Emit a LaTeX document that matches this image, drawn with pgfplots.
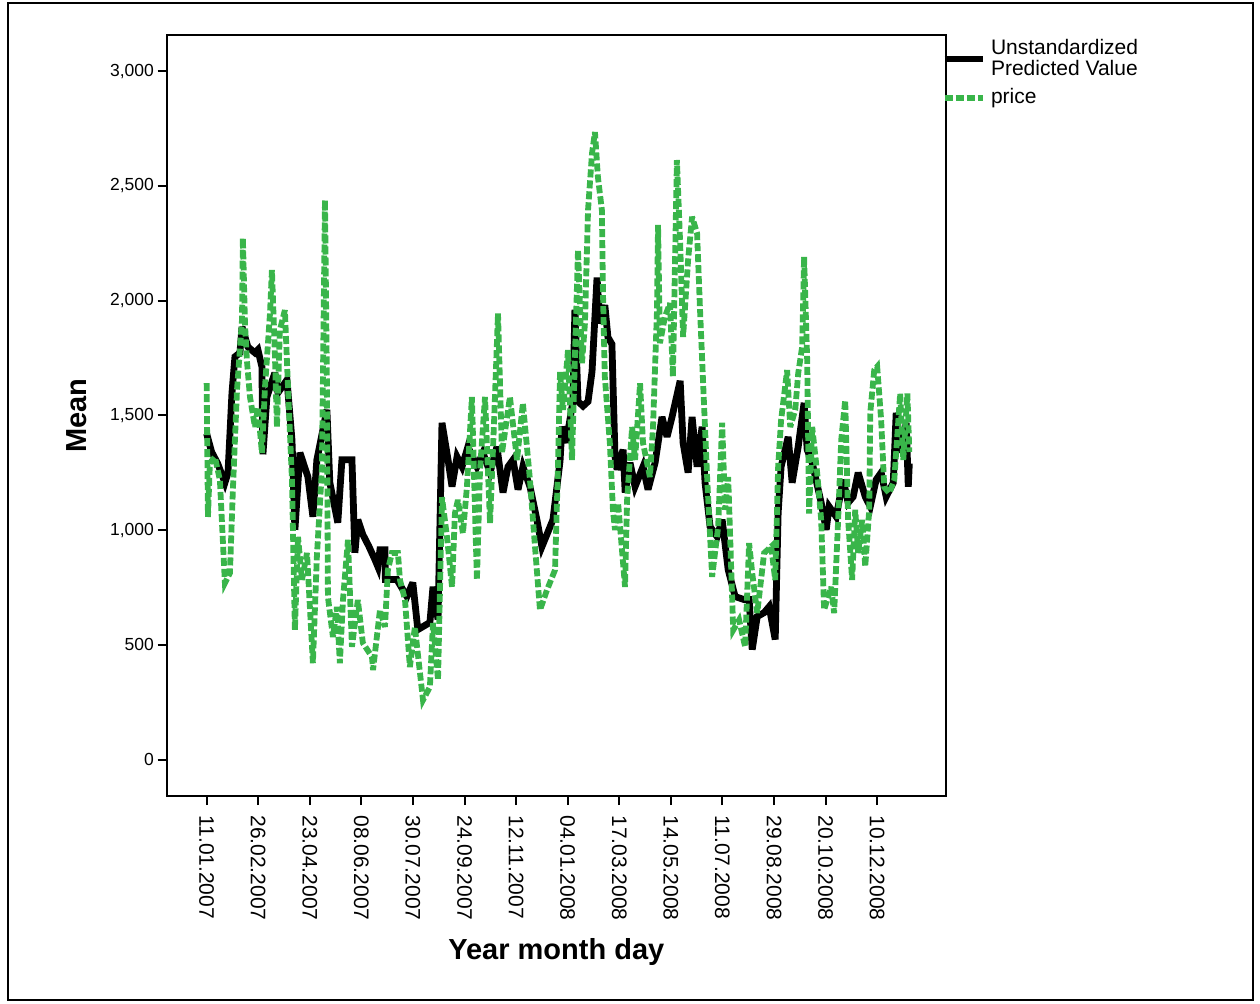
\documentclass[border=0pt]{standalone}
\usepackage{fontspec}
\setmainfont{Liberation Sans}
\usepackage{pgfplots}
\pgfplotsset{compat=1.18}
\definecolor{pricegreen}{RGB}{57,181,74}

\begin{document}
\begin{tikzpicture}[x=1pt,y=1pt]
\useasboundingbox (0,0) rectangle (630,501.5);
% outer frame of the chart
\draw[line width=0.75pt] (4,1.5) rectangle (626.5,500);
\begin{axis}[
  at={(83.35pt,103.5pt)}, anchor=south west,
  scale only axis, width=389.65pt, height=380.5pt,
  xmin=-27.1, xmax=501.7, ymin=-159, ymax=3157,
  axis line style={line width=1pt},
  every tick/.style={line width=1pt, black},
  tick align=outside, major tick length=4.5pt,
  tick pos=left,
  xtick={0,35,...,455},
  xticklabels={11.01.2007,26.02.2007,23.04.2007,08.06.2007,30.07.2007,24.09.2007,12.11.2007,04.01.2008,17.03.2008,14.05.2008,11.07.2008,29.08.2008,20.10.2008,10.12.2008},
  ytick={0,500,...,3000},
  xticklabel style={font=\fontsize{10.5}{12}\selectfont, rotate=-90, anchor=west, inner xsep=5pt},
  yticklabel style={font=\fontsize{8.75}{10}\selectfont, anchor=east, xshift=1.6pt},
  xlabel={Year month day},
  ylabel={Mean},
  label style={font=\fontsize{14.5}{17}\selectfont\bfseries},
  xlabel style={at={(axis description cs:0.5,-0.205)}, anchor=center},
  ylabel style={at={(axis description cs:-0.1151,0.5)}, anchor=center},
  legend style={at={(rel axis cs:1,1)}, anchor=north west, draw=none, fill=none,
    inner sep=0pt, xshift=-2.6pt, yshift=-1pt, row sep=3pt, column sep=0pt,
    font=\fontsize{10.5}{10.5}\selectfont,
    nodes={inner xsep=2.5pt, inner ysep=1pt},
    cells={anchor=west, align=left}},
  legend image code/.code={\draw[#1] (0pt,0pt) -- (19pt,0pt);},
  /pgf/number format/1000 sep={,},
  /pgf/number format/assume math mode=true,
]
% predicted values of the regression
\addplot[black, line width=3.4pt, line join=miter, miter limit=4] coordinates {
(0,1420) (3.4,1340) (7.5,1290) (12.4,1206) (14.5,1250) (17.2,1598) (19.2,1755)
(22.6,1772) (24.0,1885) (28.0,1798) (32.8,1772) (34.8,1785) (37.5,1711) (38.2,1330)
(40.9,1580) (46.3,1685) (48.4,1598) (54.5,1654) (57.9,1393) (59.9,1001) (63.3,1337)
(68.7,1232) (72.1,1058) (74.8,1306) (81.6,1524) (83.6,1206) (89.0,1032) (91.8,1306)
(98.6,1306) (100.6,901) (102.6,1045) (106,980) (110,930) (114.2,871) (116.2,840)
(117.6,914) (121.0,914) (121.3,784) (129.1,784) (135.9,710) (139.9,771) (143.3,566)
(151.5,597) (153.6,753) (157.0,610) (159.7,1467) (163.8,1306) (166.5,1189) (169.9,1319)
(173.3,1276) (177.3,1363) (183.4,1276) (187.5,1337) (192.3,1250) (197.0,1363) (201.1,1163)
(204.5,1276) (207.9,1306) (211.3,1176) (214.6,1276) (219.4,1189) (224.1,1045) (227.5,927)
(235.0,1045) (237.7,1189) (239.8,1300) (241.1,1450) (243.9,1380) (246.5,1480) (248.5,1560)
(249.9,1960) (252.0,1560) (255.4,1540) (258.8,1560) (261.5,1690) (264.9,2100) (266.9,1900)
(270.2,1980) (272.3,1840) (275.0,1810) (277.1,1320) (278.5,1263) (282.6,1350) (284.0,1163)
(287.3,1293) (290.7,1189) (296.1,1276) (299.5,1176) (304.3,1293) (309.0,1493) (312.4,1406)
(315.8,1493) (321.3,1650) (323.3,1380) (326.7,1250) (329.4,1493) (332.8,1276) (336.2,1450)
(338.2,1206) (341.6,1015) (346.4,971) (349.8,1045) (353.9,827) (358.6,710) (364.7,697)
(368.1,697) (370.2,479) (373.6,623) (378.3,640) (381.7,666) (385.8,523) (387.8,1075)
(389.8,1276) (394.6,1406) (397.3,1206) (401.4,1363) (405.4,1554) (407.5,1350) (410.9,1293)
(417.0,1119) (420.4,1001) (422.4,1102) (427.2,1058) (431.9,1219) (435.3,1119) (438.7,1145)
(442.1,1250) (446.9,1145) (450.3,1102) (454.3,1219) (457.7,1250) (461.1,1145) (465.9,1206)
(467.9,1511) (471.3,1337) (474.7,1467) (476.1,1189) (476.8,1290)
};
\addlegendentry{Unstandardized\\Predicted Value}
% observed price
\addplot[pricegreen, line width=2.9pt, dash pattern=on 4pt off 1.5pt, line join=miter, miter limit=4] coordinates {
(0,1640) (0.9,1057) (2.2,1292) (5.6,1318) (9.0,1218) (12.4,769) (15.8,813) (17.8,1174)
(20.6,1610) (24.0,1915) (24.6,2272) (26.0,1902) (27.3,1741) (29.4,1580) (32.8,1449)
(34.8,1536) (37.5,1336) (39.6,1623) (43.0,1945) (44.3,2133) (46.3,1771) (47.7,1449)
(49.7,1872) (53.1,1958) (55.2,1623) (57.9,1218) (59.9,564) (62.0,970) (64.7,783)
(68.1,900) (72.1,420) (74.8,884) (78.2,1261) (80.3,2438) (81.6,1654) (82.3,708)
(85.7,534) (88.4,665) (90.4,420) (92.5,695) (95.9,957) (98.6,491) (102.6,695)
(106.0,508) (112.2,447) (112.9,390) (117.6,651) (121.0,578) (123.0,826) (125.7,900)
(129.8,900) (131.2,782) (134.6,695) (137.9,403) (141.3,578) (146.8,259) (151.5,316)
(153.6,595) (157.0,346) (159.7,1143) (163.1,970) (166.5,752) (168.5,1074) (170.5,1131)
(173.9,985) (176.6,1187) (180.0,1580) (183.4,782) (185.5,1261) (188.9,1580) (192.3,1030)
(195.0,1466) (197.7,1944) (200.4,1335) (205.8,1580) (210.6,1305) (214.6,1553) (219.4,1218)
(222.8,928) (226.2,651) (230.9,738) (236.4,826) (238.4,1275) (239.8,1690) (241.8,1523)
(245.2,1784) (247.9,1305) (252.0,2220) (254.7,1727) (256.7,1901) (258.8,2394) (261.5,2642)
(263.5,2734) (265.5,2538) (268.2,2394) (268.9,2046) (270.2,1667) (273.6,1379) (275.7,1088)
(277.1,1000) (279.2,1118) (283.9,752) (285.3,1131) (288.7,1449) (290.7,1305) (294.1,1639)
(296.1,1379) (300.8,1231) (302.9,1449) (305.6,1958) (306.3,2329) (307.6,1814) (311.0,1930)
(314.4,1988) (316.4,1668) (319.1,2612) (321.3,2250) (323.3,1841) (326.7,2177) (329.4,2365)
(332.8,2293) (334.8,1958) (336.9,1639) (339.6,1231) (343.0,796) (347.1,1014) (349.8,1467)
(351.8,1088) (353.9,1231) (357.3,564) (361.3,608) (365.4,491) (368.1,943) (370.2,813)
(373.6,638) (378.3,900) (383.1,928) (385.8,782) (387.8,1275) (389.8,1479) (393.9,1697)
(396.0,1449) (399.4,1523) (401.4,1682) (404.1,1799) (405.4,2191) (407.5,1741) (408.8,1072)
(410.9,1449) (414.3,1248) (417.0,1044) (419.0,652) (423.8,752) (425.8,638) (428.5,1044)
(430.6,1392) (433.3,1566) (435.3,1044) (438.0,782) (440.1,1088) (442.1,900) (444.8,1044)
(446.9,841) (449.6,1088) (450.3,1510) (453.0,1697) (455.0,1712) (457.7,1479) (459.8,1187)
(463.2,1160) (466.6,1218) (470.6,1595) (472.7,1305) (475.5,1595) (476.8,1340)
};
\addlegendentry{price}
\end{axis}
\end{tikzpicture}
\end{document}
